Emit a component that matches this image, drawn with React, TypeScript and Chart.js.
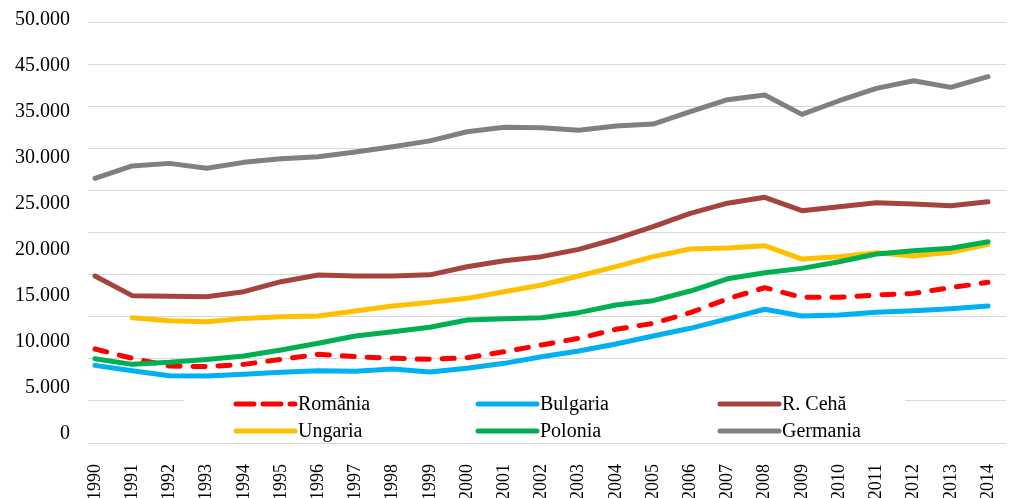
import React, { useEffect, useRef } from 'react';
import { Chart, registerables } from 'chart.js';

Chart.register(...registerables);

const years = [1990, 1991, 1992, 1993, 1994, 1995, 1996, 1997, 1998, 1999, 2000, 2001, 2002, 2003, 2004, 2005, 2006, 2007, 2008, 2009, 2010, 2011, 2012, 2013, 2014];

const romania = [11160, 10060, 9150, 9070, 9340, 9940, 10530, 10250, 10060, 9940, 10130, 10840, 11640, 12430, 13500, 14210, 15480, 17120, 18450, 17300, 17300, 17580, 17770, 18450, 19080];
const bulgaria = [9220, 8590, 7990, 7960, 8160, 8390, 8590, 8510, 8790, 8420, 8870, 9460, 10250, 10930, 11760, 12710, 13620, 14750, 15880, 15080, 15200, 15520, 15710, 15950, 16270];
const ceha = [19830, 17500, 17420, 17380, 17970, 19160, 19950, 19830, 19830, 19970, 20940, 21650, 22130, 23000, 24230, 25690, 27280, 28480, 29180, 27590, 28070, 28540, 28380, 28180, 28660];
const ungaria = [null, 14880, 14530, 14410, 14800, 15000, 15080, 15680, 16270, 16700, 17180, 17970, 18760, 19830, 20940, 22130, 23040, 23160, 23440, 21850, 22130, 22600, 22210, 22650, 23600];
const polonia = [10010, 9340, 9580, 9930, 10330, 11040, 11840, 12710, 13220, 13740, 14610, 14770, 14880, 15480, 16390, 16900, 18050, 19500, 20230, 20740, 21530, 22450, 22840, 23120, 23910];
const germania = [31435, 32900, 33210, 32620, 33330, 33770, 34000, 34560, 35190, 35880, 36970, 37490, 37450, 37135, 37650, 37880, 39350, 40770, 41330, 39030, 40650, 42120, 43030, 42240, 43510];

const seriesNames = ['România', 'Bulgaria', 'R. Cehă', 'Ungaria', 'Polonia', 'Germania'];
const seriesColors = ['#FF0000', '#00B0F0', '#A5433E', '#FFC000', '#00B050', '#808080'];
const seriesData = [romania, bulgaria, ceha, ungaria, polonia, germania];

// tick labels as printed on the original axis
const yTickLabels = ['0', '5.000', '10.000', '15.000', '20.000', '25.000', '30.000', '35.000', '45.000', '50.000'];

const FONT = "'Times New Roman', 'Liberation Serif', serif";
const DASH = [12, 13];

const zeroPad = (s: any) => {
  s.paddingTop = 0;
  s.paddingBottom = 0;
  s.paddingLeft = 0;
  s.paddingRight = 0;
};

const legendPlugin = {
  id: 'boxLegend',
  afterDatasetsDraw(chart: any) {
    const ctx = chart.ctx;
    ctx.save();
    ctx.fillStyle = '#ffffff';
    ctx.fillRect(184, 386, 721, 55);
    ctx.font = `20px ${FONT}`;
    ctx.textBaseline = 'middle';
    ctx.textAlign = 'left';
    seriesNames.forEach((name, i) => {
      const col = i % 3;
      const row = Math.floor(i / 3);
      const x0 = 236 + col * 242;
      const y = 404 + row * 27;
      ctx.beginPath();
      ctx.lineWidth = 5;
      ctx.lineCap = 'round';
      ctx.strokeStyle = seriesColors[i];
      ctx.setLineDash(i === 0 ? [18, 9] : []);
      ctx.moveTo(x0, y);
      ctx.lineTo(x0 + 59, y);
      ctx.stroke();
      ctx.setLineDash([]);
      ctx.fillStyle = '#000000';
      ctx.fillText(name, x0 + 62, y + 1);
    });
    ctx.restore();
  },
};

export default function App() {
  const ref = useRef<HTMLCanvasElement | null>(null);

  useEffect(() => {
    if (!ref.current) return;
    const datasets = seriesData.map((arr, i) => ({
      label: seriesNames[i],
      data: years.map((yr, k) => ({ x: yr, y: arr[k] })),
      borderColor: seriesColors[i],
      backgroundColor: seriesColors[i],
      borderWidth: 5,
      borderDash: i === 0 ? DASH : [],
      borderCapStyle: 'round',
      borderJoinStyle: 'round',
      pointRadius: 0,
      pointHoverRadius: 0,
      fill: false,
      tension: 0,
      spanGaps: false,
      order: 5 - i,
      xAxisID: 'x',
      yAxisID: 'y',
    }));

    const chart = new Chart(ref.current, {
      type: 'line',
      data: { datasets } as any,
      plugins: [legendPlugin],
      options: {
        animation: false,
        responsive: false,
        devicePixelRatio: 1,
        layout: { padding: { top: 22, left: 0, right: 0, bottom: 0 } },
        plugins: { legend: { display: false }, tooltip: { enabled: false } },
        scales: {
          x: {
            type: 'linear',
            position: 'bottom',
            min: 1989.812,
            max: 2014.484,
            afterBuildTicks: (s: any) => {
              s.ticks = years.map((v) => ({ value: v }));
            },
            afterFit: (s: any) => {
              s.height = 55;
              zeroPad(s);
            },
            grid: { display: false },
            border: { display: false },
            ticks: {
              autoSkip: false,
              minRotation: 90,
              maxRotation: 90,
              padding: 13,
              color: '#000000',
              font: { family: FONT, size: 18 },
              callback: (v: any) => String(v),
            },
          },
          yLabels: {
            type: 'linear',
            position: 'left',
            min: -9.5 / 46,
            max: 411.5 / 46,
            afterBuildTicks: (s: any) => {
              s.ticks = yTickLabels.map((_, i) => ({ value: i }));
            },
            afterFit: (s: any) => {
              s.width = 88;
              zeroPad(s);
            },
            grid: { display: false },
            border: { display: false },
            ticks: {
              autoSkip: false,
              padding: 10,
              color: '#000000',
              font: { family: FONT, size: 20 },
              callback: (_v: any, i: number) => yTickLabels[i],
            },
          },
          y: {
            type: 'linear',
            position: 'right',
            min: 0,
            max: 50000,
            ticks: { display: false, stepSize: 5000 },
            afterFit: (s: any) => {
              s.width = 8;
              zeroPad(s);
            },
            grid: { color: '#D9D9D9', lineWidth: 1, drawTicks: false },
            border: { display: false },
          },
        },
      } as any,
    });
    return () => chart.destroy();
  }, []);

  return (
    <div style={{ position: 'fixed', left: 0, top: 0, width: 1014, height: 498, background: '#fff' }}>
      <canvas ref={ref} width={1014} height={498} style={{ display: 'block' }} />
    </div>
  );
}
